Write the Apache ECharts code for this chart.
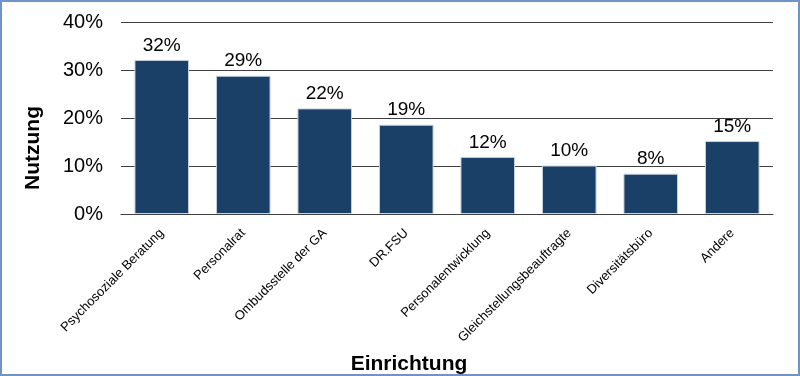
<!DOCTYPE html>
<html>
<head>
<meta charset="utf-8">
<script src="https://cdn.jsdelivr.net/npm/echarts@6/dist/echarts.min.js"></script>
<style>
  html, body { margin: 0; padding: 0; background: #fff; }
  #chart { width: 800px; height: 376px; box-sizing: border-box; border: 2px solid #6f93c6; }
</style>
</head>
<body>
<div id="chart"></div>
<script>
// Kategorien und Werte (Nutzung in %)
const categories = ['Psychosoziale Beratung', 'Personalrat', 'Ombudsstelle der GA', 'DR.FSU',
  'Personalentwicklung', 'Gleichstellungsbeauftragte', 'Diversitätsbüro', 'Andere']
const usage = [32.1, 28.8, 22.0, 18.6, 11.9, 10.1, 8.4, 15.2]
const yTicks = [0, 10, 20, 30, 40]

const chart = echarts.init(document.getElementById('chart'))

chart.setOption({
  animation: false,
  textStyle: { fontFamily: 'Liberation Sans, Arial, sans-serif' },
  grid: { left: 119, right: 25, top: 20, bottom: 160, outerBoundsMode: 'none', containLabel: false },
  xAxis: {
    type: 'category',
    data: categories,
    name: 'Einrichtung',
    nameLocation: 'middle',
    nameGap: 140,
    nameTextStyle: { color: '#000', fontSize: 21, fontWeight: 'bold', padding: [0, 76, 0, 0] },
    axisLine: { lineStyle: { color: '#404040', width: 1 } },
    axisTick: { show: false },
    axisLabel: { interval: 0, rotate: 45, color: '#000', fontSize: 13, margin: 17 }
  },
  yAxis: {
    type: 'value',
    min: yTicks[0],
    max: yTicks[yTicks.length - 1],
    interval: 10,
    name: 'Nutzung',
    nameLocation: 'middle',
    nameGap: 77,
    nameRotate: 90,
    nameTextStyle: { color: '#000', fontSize: 21, fontWeight: 'bold', padding: [0, 60, 0, 0] },
    axisLine: { show: false },
    axisTick: { show: false },
    axisLabel: { color: '#000', fontSize: 20, margin: 18, formatter: '{value}%' },
    splitLine: { lineStyle: { color: '#404040', width: 1 } }
  },
  series: [{
    type: 'bar',
    data: usage,
    barWidth: '67%',
    itemStyle: { color: '#1a4068', borderColor: '#c8d2de', borderWidth: 1 },
    label: {
      show: true,
      position: 'top',
      distance: 5,
      color: '#000',
      fontSize: 19,
      formatter: p => Math.round(p.value) + '%'
    }
  }]
})
</script>
</body>
</html>
